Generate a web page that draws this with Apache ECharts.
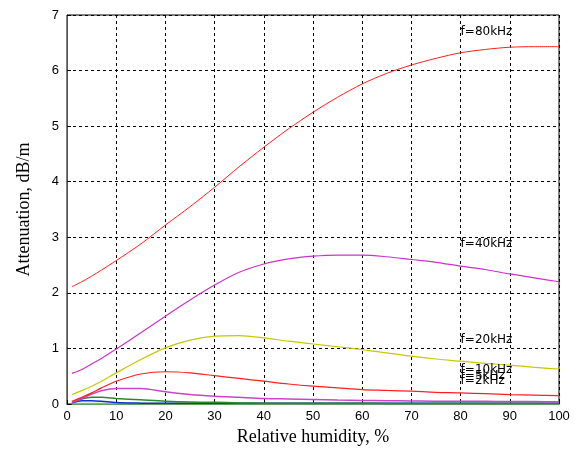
<!DOCTYPE html>
<html><head><meta charset="utf-8">
<script src="https://cdn.jsdelivr.net/npm/echarts@6/dist/echarts.min.js"></script>
<style>html,body{margin:0;padding:0;background:#fff}#c{width:580px;height:451px}</style>
</head><body><div id="c"></div>
<script>
const humidity = [1,3,5,7,10,15,20,25,30,35,40,45,50,55,60,65,70,75,80,85,90,95,100];
const f80k = [2.11,2.2,2.3,2.41,2.58,2.88,3.22,3.55,3.9,4.27,4.62,4.95,5.25,5.52,5.76,5.95,6.1,6.22,6.32,6.38,6.42,6.43,6.43];
const f40k = [0.55,0.62,0.72,0.82,0.99,1.28,1.58,1.87,2.14,2.37,2.52,2.61,2.66,2.68,2.68,2.65,2.6,2.55,2.48,2.42,2.34,2.27,2.2];
const f20k = [0.17,0.24,0.32,0.41,0.56,0.8,1.01,1.15,1.22,1.23,1.19,1.13,1.08,1.03,0.98,0.92,0.86,0.81,0.77,0.73,0.7,0.66,0.63];
const f10k = [0.05,0.12,0.2,0.29,0.41,0.54,0.58,0.56,0.51,0.46,0.41,0.36,0.32,0.29,0.26,0.245,0.23,0.21,0.2,0.185,0.17,0.16,0.15];
const f5k  = [0.03,0.1,0.18,0.24,0.28,0.28,0.22,0.17,0.14,0.12,0.1,0.09,0.08,0.07,0.065,0.058,0.055,0.05,0.05,0.048,0.045,0.043,0.04];
const f2k  = [0.03,0.09,0.12,0.12,0.1,0.075,0.05,0.035,0.03,0.02,0.015,0.013,0.012,0.012,0.012,0.011,0.011,0.011,0.01,0.01,0.01,0.01,0.01];
const f1k  = [0.02,0.06,0.06,0.05,0.025,0.015,0.012,0.012,0.012,0.012,0.012,0.012,0.012,0.012,0.012,0.012,0.012,0.012,0.012,0.012,0.012,0.012,0.012];
const f05k = [0.004,0.004,0.004,0.004,0.004,0.004,0.004,0.004,0.004,0.004,0.004,0.004,0.004,0.004,0.004,0.004,0.004,0.004,0.004,0.004,0.004,0.004,0.004];
const labelX = 80;
const labelNames = ['f=80kHz','f=40kHz','f=20kHz','f=10kHz','f=5kHz','f=2kHz'];
const labelY = [6.69,2.88,1.15,0.61,0.51,0.41];
const xTicks = [0,10,20,30,40,50,60,70,80,90,100];
const yTicks = [0,1,2,3,4,5,6,7];

function pts(vals){ return humidity.map((h,i)=>[h, vals[i]]); }
function mk(name, vals, color, width, labelIdx){
  const s = {
    name, type:'line', data: pts(vals), showSymbol:false, smooth:0.3,
    lineStyle:{color, width}, itemStyle:{color}, z: 3
  };
  if (labelIdx !== undefined) {
    s.markPoint = {
      symbol:'circle', symbolSize:0, silent:true,
      data:[{coord:[labelX, labelY[labelIdx]]}],
      label:{show:true, position:'right', distance:0, formatter: labelNames[labelIdx],
        color:'#000', fontSize:12, fontFamily:'DejaVu Sans, sans-serif'}
    };
  }
  return s;
}
const chart = echarts.init(document.getElementById('c'));
chart.setOption({
  animation:false,
  backgroundColor:'#fff',
  grid:{left:67, right:21, top:15, bottom:47, show:true, borderColor:'#000', borderWidth:1, backgroundColor:'#fff'},
  xAxis:{type:'value', min:0, max:100, interval:10,
    name:'Relative humidity, %', nameLocation:'middle', nameGap:22,
    nameTextStyle:{fontFamily:'Liberation Serif, Times New Roman, serif', fontSize:18, color:'#000'},
    axisLine:{show:true, lineStyle:{color:'#333'}},
    axisTick:{show:true, inside:true, length:4, lineStyle:{color:'#000'}},
    axisLabel:{color:'#000', fontSize:13, margin:6, fontFamily:'Liberation Sans, Arial, sans-serif',
      formatter:v=>xTicks.includes(v)?String(v):''},
    splitLine:{show:true, lineStyle:{color:'#000', type:[3,3], width:1}}
  },
  yAxis:{type:'value', min:0, max:7, interval:1,
    name:'Attenuation, dB/m', nameLocation:'middle', nameGap:34,
    nameTextStyle:{fontFamily:'Liberation Serif, Times New Roman, serif', fontSize:18, color:'#000'},
    axisLine:{show:true, lineStyle:{color:'#555'}},
    axisTick:{show:true, inside:true, length:4, lineStyle:{color:'#000'}},
    axisLabel:{color:'#000', fontSize:13, margin:8, fontFamily:'Liberation Sans, Arial, sans-serif',
      formatter:v=>yTicks.includes(v)?String(v):''},
    splitLine:{show:true, lineStyle:{color:'#000', type:[3,3], width:1}}
  },
  series:[
    mk('f=0.5kHz', f05k, '#77c077', 2),
    mk('f=1kHz', f1k, '#1030d0', 1.5),
    mk('f=2kHz', f2k, '#2a8a2a', 1.5, 5),
    mk('f=5kHz', f5k, '#cc44cc', 1.5, 4),
    mk('f=10kHz', f10k, '#ff2020', 1.2, 3),
    mk('f=20kHz', f20k, '#c8c800', 1.2, 2),
    mk('f=40kHz', f40k, '#cc33cc', 1.2, 1),
    mk('f=80kHz', f80k, '#ff2020', 1, 0)
  ]
});
</script></body></html>
